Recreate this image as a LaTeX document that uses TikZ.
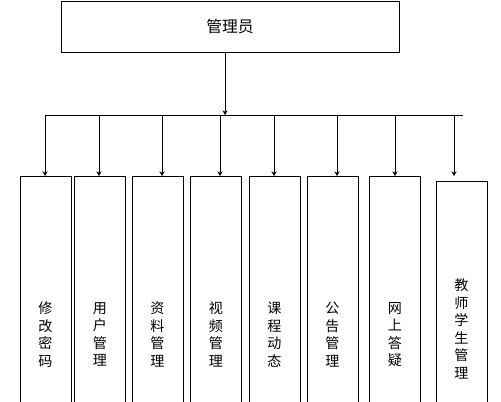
\documentclass[tikz,border=0pt]{standalone}
\usepackage{fontspec}
\newfontfamily\cjk{Noto Sans CJK SC}
\usepackage{tikz}
\usetikzlibrary{shapes,arrows,positioning, fit, arrows.meta}

\tikzset{
    topbox/.style={draw,line width=0.8pt,inner sep=0pt,minimum width=10.14cm,minimum height=1.53cm,font=\cjk\fontsize{13.5}{16}\selectfont},
    modbox/.style={draw,line width=0.8pt,inner sep=0pt,minimum width=1.53cm,minimum height=9.48cm,align=center,font=\cjk\fontsize{12}{15}\selectfont},
    link/.style={line width=0.8pt},
    drop/.style={line width=0.8pt,-{Stealth[length=4pt,width=4.5pt]}}
}

\begin{document}
\begin{tikzpicture}[x=0.03cm,y=-0.03cm]
        % Fix the page size and cut the boxes at the bottom
        \useasboundingbox (0,0) rectangle (501,402);
        \clip (0,0) rectangle (501,402);
        % Draw the administrator box
        \node[topbox] (admin) at (230,26.5) {管理员};
        % Draw the bus line
        \coordinate (busmid) at (225,115);
        \coordinate (busleft) at (45,115);
        \coordinate (busright) at (463,115);
        \draw[drop] (admin.south -| busmid) -- (busmid);
        \draw[link] (busleft) -- (busright);
        % Draw the module boxes
        \node[modbox,anchor=north] (pwd) at (45.5,176) {修\\改\\密\\码};
        \node[modbox,anchor=north] (user) at (100,176) {用\\户\\管\\理};
        \node[modbox,anchor=north] (data) at (157.5,176) {资\\料\\管\\理};
        \node[modbox,anchor=north] (video) at (216,176) {视\\频\\管\\理};
        \node[modbox,anchor=north] (course) at (274.5,176) {课\\程\\动\\态};
        \node[modbox,anchor=north] (notice) at (332.5,176) {公\\告\\管\\理};
        \node[modbox,anchor=north] (qa) at (395,176) {网\\上\\答\\疑};
        \node[modbox,anchor=north,minimum height=8.85cm] (people) at (461.5,181) {教\\师\\学\\生\\管\\理};
        % Draw the drops from the bus line
        \coordinate (d1) at (45,115);
        \coordinate (d2) at (99,115);
        \coordinate (d3) at (162,115);
        \coordinate (d4) at (220,115);
        \coordinate (d5) at (274,115);
        \coordinate (d6) at (337,115);
        \coordinate (d7) at (395,115);
        \coordinate (d8) at (454,115);
        \draw[drop] (d1) -- (d1 |- pwd.north);
        \draw[drop] (d2) -- (d2 |- user.north);
        \draw[drop] (d3) -- (d3 |- data.north);
        \draw[drop] (d4) -- (d4 |- video.north);
        \draw[drop] (d5) -- (d5 |- course.north);
        \draw[drop] (d6) -- (d6 |- notice.north);
        \draw[drop] (d7) -- (d7 |- qa.north);
        \draw[drop] (d8) -- (d8 |- pwd.north);
    \end{tikzpicture}
\end{document}
